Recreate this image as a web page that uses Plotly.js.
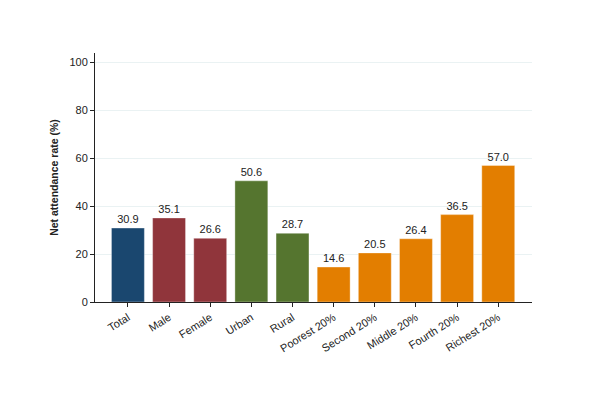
<!DOCTYPE html>
<html><head><meta charset="utf-8">
<script src="https://cdn.plot.ly/plotly-3.0.1.min.js"></script>
<style>body{margin:0;background:#fff}#c{width:600px;height:393px}</style>
</head><body><div id="c"></div>
<script>
const categories = ["Total","Male","Female","Urban","Rural","Poorest 20%","Second 20%","Middle 20%","Fourth 20%","Richest 20%"];
const values = [30.9,35.1,26.6,50.6,28.7,14.6,20.5,26.4,36.5,57.0];
const groups = ["total","sex","sex","area","area","wealth","wealth","wealth","wealth","wealth"];
const groupColors = {total:"#1a476f", sex:"#90353b", area:"#55752f", wealth:"#e37e00"};
const yTicks = [0,20,40,60,80,100];

const colors = groups.map(g => groupColors[g]);
const trace = {
  type: "bar",
  x: categories.map((_, i) => i),
  y: values,
  width: 0.8,
  marker: {color: colors, line: {color: "rgba(255,255,255,0.35)", width: 1}},
  text: values.map(v => v.toFixed(1)),
  textposition: "outside",
  cliponaxis: false,
  textfont: {family: "Liberation Sans, Arial, sans-serif", size: 11, color: "#222"},
  hoverinfo: "none"
};
const layout = {
  width: 600, height: 393,
  margin: {l: 95, r: 68, t: 53, b: 91},
  paper_bgcolor: "#fff", plot_bgcolor: "#fff",
  showlegend: false,
  font: {family: "Liberation Sans, Arial, sans-serif", size: 11, color: "#222"},
  xaxis: {
    range: [-0.8, 9.82],
    tickmode: "array",
    tickvals: categories.map((_, i) => i),
    ticktext: categories,
    tickangle: -32,
    ticks: "outside", ticklen: 4, tickcolor: "#222", tickwidth: 1,
    showline: true, linecolor: "#222", linewidth: 1,
    showgrid: false, zeroline: false,
    tickfont: {size: 11, color: "#222"}
  },
  yaxis: {
    range: [0, 104],
    tickmode: "array",
    tickvals: yTicks,
    ticks: "outside", ticklen: 4, tickcolor: "#222", tickwidth: 1,
    showline: true, linecolor: "#222", linewidth: 1,
    showgrid: true, gridcolor: "#eaf2f3", gridwidth: 1,
    zeroline: false,
    tickfont: {size: 11, color: "#222"},
    title: {text: "<b>Net attendance rate (%)</b>", font: {size: 10.5, color: "#222"}, standoff: 8}
  },
  bargap: 0.2
};
Plotly.newPlot("c", [trace], layout, {displayModeBar: false, staticPlot: true});
</script>
</body></html>
